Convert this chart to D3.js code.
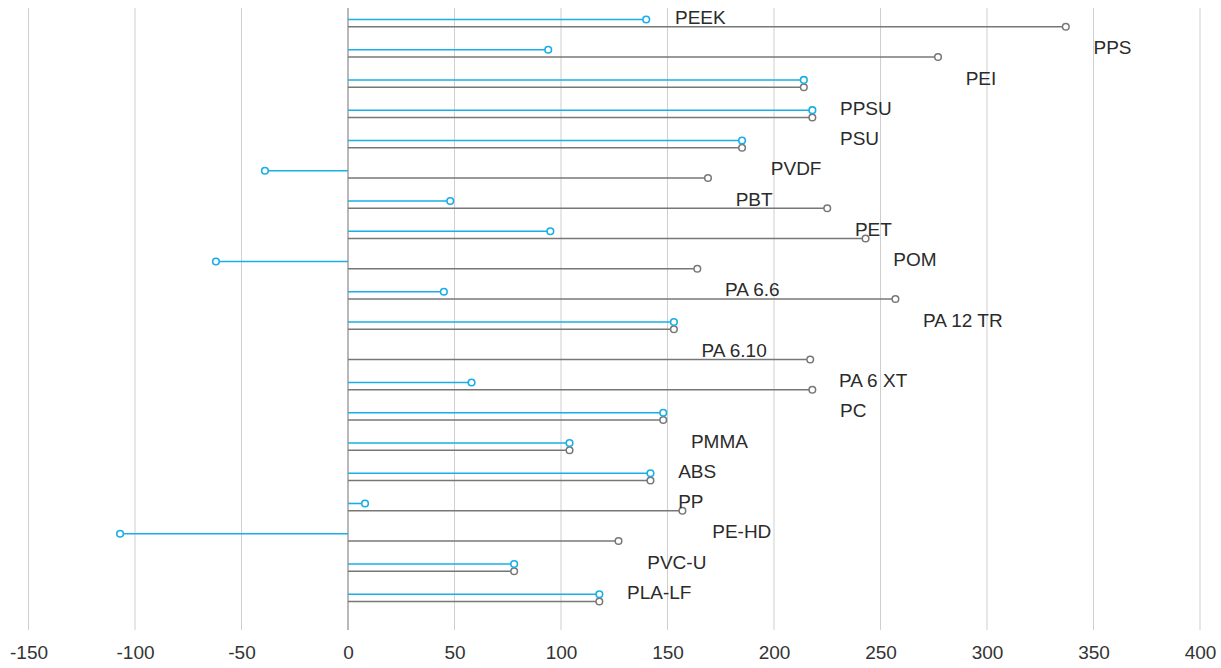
<!DOCTYPE html>
<html>
<head>
<meta charset="utf-8">
<script src="https://cdn.jsdelivr.net/npm/d3@7"></script>
<style>
  html, body { margin: 0; padding: 0; background: #fff; }
  svg { display: block; font-family: "Liberation Sans", Arial, Helvetica, sans-serif; }
</style>
</head>
<body>
<svg id="chart" width="1221" height="668"></svg>
<script>
const categories = ["PEEK","PPS","PEI","PPSU","PSU","PVDF","PBT","PET","POM","PA 6.6","PA 12 TR","PA 6.10","PA 6 XT","PC","PMMA","ABS","PP","PE-HD","PVC-U","PLA-LF"];
const blueValues = [140, 94, 214, 218, 185, -39, 48, 95, -62, 45, 153, null, 58, 148, 104, 142, 8, -107, 78, 118];
const grayValues = [337, 277, 214, 218, 185, 169, 225, 243, 164, 257, 153, 217, 218, 148, 104, 142, 157, 127, 78, 118];
const labelPos   = [153.5, 350, 290, 231, 231, 198.5, 182, 238, 256, 177, 270, 166, 230.5, 231, 161, 155, 155, 171, 140.5, 131];
const tickValues = [-150, -100, -50, 0, 50, 100, 150, 200, 250, 300, 350, 400];

const svg = d3.select("#chart");
const x = d3.scaleLinear().domain([-150, 400]).range([28.5, 1200]);
const y = d3.scaleBand().domain(categories).range([8, 613]);
const gridTop = 8, gridBottom = 630;
const off = 3.65;
const blue = "#1aaee8", gray = "#777777";
const fontFam = "'Liberation Sans', Arial, sans-serif";

// grid
const grid = svg.append("g");
grid.selectAll("line").data(tickValues).join("line")
  .attr("x1", d => x(d)).attr("x2", d => x(d))
  .attr("y1", gridTop).attr("y2", gridBottom)
  .attr("stroke", d => d === 0 ? "#b8b8b8" : "#cfcfcf")
  .attr("stroke-width", d => d === 0 ? 2 : 1);

// axis labels
const axis = d3.axisBottom(x).tickValues(tickValues).tickSize(0).tickPadding(0).tickFormat(d => String(d));
const ax = svg.append("g").attr("transform", `translate(0,${652})`).call(axis);
ax.select(".domain").remove();
ax.selectAll("text").attr("dy", "0.35em").attr("y", 0)
  .attr("font-size", 19).attr("fill", "#333").attr("font-family", fontFam);

const rows = categories.map((c, i) => ({c, b: blueValues[i], g: grayValues[i], l: labelPos[i]}));

// gray lollipops
const gG = svg.append("g");
gG.selectAll("line").data(rows.filter(d => d.g != null)).join("line")
  .attr("x1", x(0)).attr("x2", d => x(d.g))
  .attr("y1", d => y(d.c) + y.bandwidth()/2 + off)
  .attr("y2", d => y(d.c) + y.bandwidth()/2 + off)
  .attr("stroke", gray).attr("stroke-width", 1.6);
gG.selectAll("circle").data(rows.filter(d => d.g != null)).join("circle")
  .attr("cx", d => x(d.g)).attr("cy", d => y(d.c) + y.bandwidth()/2 + off)
  .attr("r", 3.3).attr("fill", "#fff").attr("stroke", gray).attr("stroke-width", 1.5);

// blue lollipops
const gB = svg.append("g");
gB.selectAll("line").data(rows.filter(d => d.b != null)).join("line")
  .attr("x1", x(0)).attr("x2", d => x(d.b))
  .attr("y1", d => y(d.c) + y.bandwidth()/2 - off)
  .attr("y2", d => y(d.c) + y.bandwidth()/2 - off)
  .attr("stroke", blue).attr("stroke-width", 1.6);
gB.selectAll("circle").data(rows.filter(d => d.b != null)).join("circle")
  .attr("cx", d => x(d.b)).attr("cy", d => y(d.c) + y.bandwidth()/2 - off)
  .attr("r", 3.3).attr("fill", "#fff").attr("stroke", blue).attr("stroke-width", 1.6);

// labels
svg.append("g").selectAll("text").data(rows).join("text")
  .attr("x", d => x(d.l))
  .attr("y", d => y(d.c) + y.bandwidth()/2 - off - 2)
  .attr("dy", "0.35em")
  .attr("font-size", 19).attr("fill", "#2b2b2b").attr("font-family", fontFam)
  .text(d => d.c);
</script>
</body>
</html>
